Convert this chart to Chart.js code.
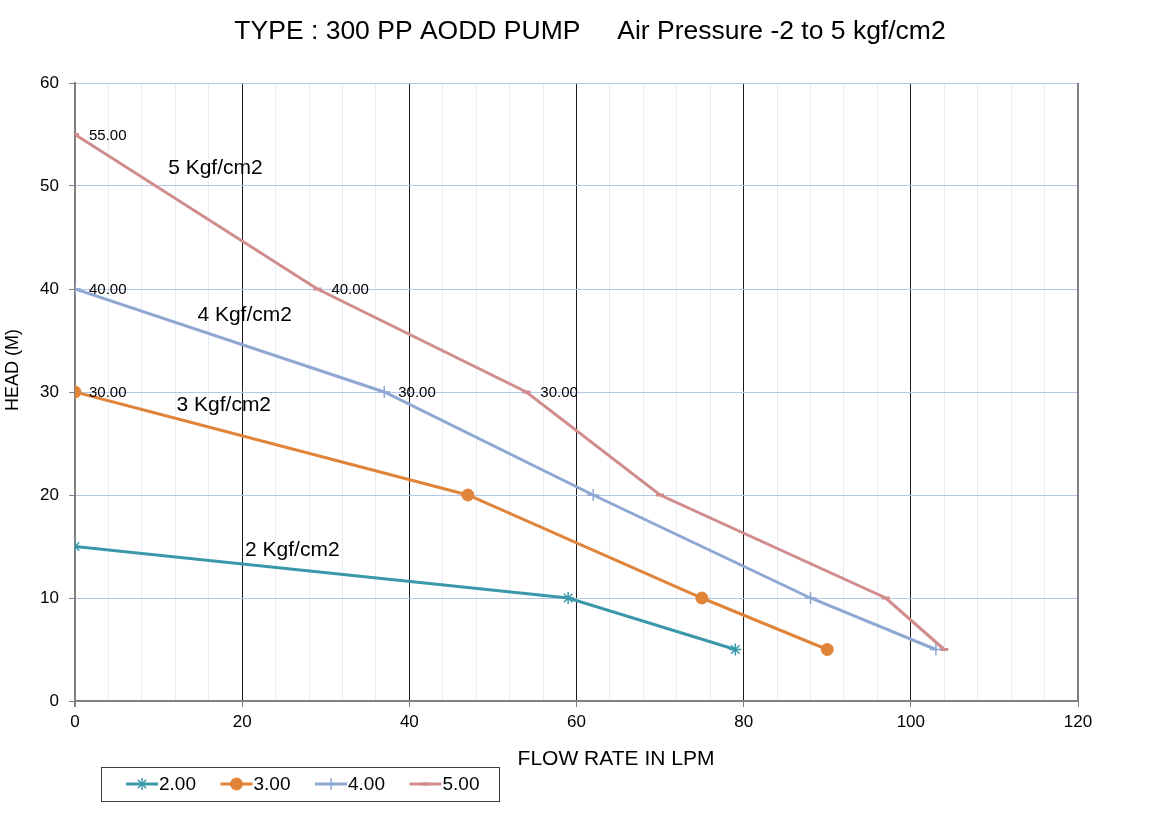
<!DOCTYPE html>
<html>
<head>
<meta charset="utf-8">
<title>300 PP AODD Pump curve</title>
<script src="https://cdn.jsdelivr.net/npm/chart.js@4"></script>
<style>
  html, body { margin: 0; padding: 0; background: #fff; }
  #wrap { width: 1169px; height: 832px; }
</style>
</head>
<body>
<div id="wrap"><canvas id="pumpChart" width="1169" height="832"></canvas></div>
<script>
// Pump curve data (flow in LPM, head in M)
const seriesNames = ['2.00', '3.00', '4.00', '5.00'];
const flow2 = [0, 59, 79];
const head2 = [15, 10, 5];
const flow3 = [0, 47, 75, 90];
const head3 = [30, 20, 10, 5];
const flow4 = [0, 37, 62, 88, 103];
const head4 = [40, 30, 20, 10, 5];
const flow5 = [0, 29, 54, 70, 97, 104];
const head5 = [55, 40, 30, 20, 10, 5];

// which points carry a value label (index into each series)
const labelled2 = [];
const labelled3 = [0];
const labelled4 = [0, 1];
const labelled5 = [0, 1, 2];

// curve names written on the plot
const curveNames = ['2 Kgf/cm2', '3 Kgf/cm2', '4 Kgf/cm2', '5 Kgf/cm2'];
const curveNameAt = [[26, 14.6], [17.8, 28.7], [20.3, 37.5], [16.8, 51.7]];

const xTicks = [0, 20, 40, 60, 80, 100, 120];
const yTicks = [0, 10, 20, 30, 40, 50, 60];

const FONT = '"Liberation Sans", Arial, sans-serif';
const colors = ['#3a98aa', '#e0843a', '#8fa7d3', '#d18d8d'];
const markers = ['star', 'circle', 'cross', 'line'];

function toPoints(xs, ys) {
    return xs.map((x, i) => ({ x: x, y: ys[i] }));
}

const allFlows = [flow2, flow3, flow4, flow5];
const allHeads = [head2, head3, head4, head5];
const allLabelled = [labelled2, labelled3, labelled4, labelled5];

const datasets = seriesNames.map((name, i) => ({
    label: name,
    data: toPoints(allFlows[i], allHeads[i]),
    borderColor: colors[i],
    backgroundColor: colors[i],
    borderWidth: 3,
    pointStyle: markers[i],
    pointRadius: i === 3 ? 4 : 6,
    pointBorderWidth: i === 1 ? 1 : (i === 3 ? 3 : 1.5),
    pointBorderColor: colors[i],
    pointBackgroundColor: colors[i],
    tension: 0,
    fill: false
}));

// Draws title, axis titles, value labels, curve names and the boxed legend
const extrasPlugin = {
    id: 'extras',
    afterDatasetsDraw(chart) {
        const ctx = chart.ctx;
        const xs = chart.scales.x, ys = chart.scales.y;
        const area = chart.chartArea;
        ctx.save();

        // right border of plot
        ctx.strokeStyle = '#808080';
        ctx.lineWidth = 2;
        ctx.beginPath();
        ctx.moveTo(area.right, area.top);
        ctx.lineTo(area.right, area.bottom);
        ctx.stroke();

        ctx.fillStyle = '#000';
        ctx.textBaseline = 'middle';

        // value labels on points
        ctx.font = '15px ' + FONT;
        ctx.textAlign = 'left';
        allLabelled.forEach((idxs, s) => {
            idxs.forEach(i => {
                const px = xs.getPixelForValue(allFlows[s][i]);
                const py = ys.getPixelForValue(allHeads[s][i]);
                ctx.fillText(allHeads[s][i].toFixed(2), px + 14, py + 1);
            });
        });

        // curve names
        ctx.font = '21px ' + FONT;
        ctx.textAlign = 'center';
        curveNames.forEach((txt, i) => {
            ctx.fillText(txt, xs.getPixelForValue(curveNameAt[i][0]), ys.getPixelForValue(curveNameAt[i][1]));
        });

        // title
        ctx.font = '26.5px ' + FONT;
        ctx.fillText('TYPE : 300 PP AODD PUMP     Air Pressure -2 to 5 kgf/cm2', 590, 32);

        // axis titles
        ctx.font = '21px ' + FONT;
        ctx.fillText('FLOW RATE IN LPM', 616, 759);
        ctx.save();
        ctx.translate(13, 370);
        ctx.rotate(-Math.PI / 2);
        ctx.font = '18px ' + FONT;
        ctx.fillText('HEAD (M)', 0, 0);
        ctx.restore();

        // legend box
        ctx.strokeStyle = '#404040';
        ctx.lineWidth = 1;
        ctx.strokeRect(101.5, 767.5, 398, 34);
        ctx.font = '19px ' + FONT;
        ctx.textAlign = 'left';
        seriesNames.forEach((name, i) => {
            const x0 = 126 + i * 94.5;
            const y0 = 784;
            ctx.strokeStyle = colors[i];
            ctx.lineWidth = 3;
            ctx.beginPath();
            ctx.moveTo(x0, y0);
            ctx.lineTo(x0 + 32, y0);
            ctx.stroke();
            const ds = datasets[i];
            ctx.fillStyle = colors[i];
            ctx.strokeStyle = colors[i];
            ctx.lineWidth = ds.pointBorderWidth;
            Chart.helpers.drawPoint(ctx, { pointStyle: ds.pointStyle, radius: ds.pointRadius, borderWidth: ds.pointBorderWidth, rotation: 0 }, x0 + 16, y0);
            ctx.fillStyle = '#000';
            ctx.fillText(name, x0 + 33, y0 + 1);
        });

        ctx.restore();
    }
};

const ctxPump = document.getElementById('pumpChart').getContext('2d');
const pumpChart = new Chart(ctxPump, {
    type: 'line',
    data: { datasets: datasets },
    options: {
        responsive: false,
        animation: false,
        layout: { padding: { top: 83, left: 0, right: 91, bottom: 91 } },
        plugins: {
            legend: { display: false },
            title: { display: false },
            tooltip: { enabled: false }
        },
        scales: {
            x: {
                type: 'linear',
                min: xTicks[0],
                max: xTicks[xTicks.length - 1],
                afterFit: scale => { scale.height = 40; },
                afterBuildTicks: scale => {
                    const t = [];
                    for (let v = xTicks[0]; v <= xTicks[xTicks.length - 1]; v += 4) t.push({ value: v });
                    xTicks.forEach(v => { if (!t.find(k => k.value === v)) t.push({ value: v }); });
                    t.sort((a, b) => a.value - b.value);
                    scale.ticks = t;
                },
                ticks: {
                    autoSkip: false,
                    maxRotation: 0,
                    padding: 5,
                    color: '#000',
                    font: { size: 17, family: FONT },
                    callback: v => xTicks.includes(v) ? String(v) : ''
                },
                grid: {
                    color: c => c.tick.value === 0 ? '#808080' : (xTicks.includes(c.tick.value) ? '#1a1a1a' : '#e6ecf7'),
                    tickColor: c => xTicks.includes(c.tick.value) ? '#808080' : 'rgba(0,0,0,0)',
                    tickLength: 6,
                    lineWidth: c => c.tick.value === 0 ? 2 : 1
                },
                border: { color: '#808080', width: 2 }
            },
            y: {
                type: 'linear',
                min: yTicks[0],
                max: yTicks[yTicks.length - 1],
                afterFit: scale => { scale.width = 75; },
                afterBuildTicks: scale => { scale.ticks = yTicks.map(v => ({ value: v })); },
                ticks: {
                    padding: 10,
                    color: '#000',
                    font: { size: 17, family: FONT }
                },
                grid: {
                    color: c => c.tick.value === 0 ? '#808080' : '#b4c7e7',
                    tickColor: '#808080',
                    tickLength: 6,
                    lineWidth: 1
                },
                border: { color: '#808080', width: 2 }
            }
        }
    },
    plugins: [extrasPlugin]
});
</script>
</body>
</html>
